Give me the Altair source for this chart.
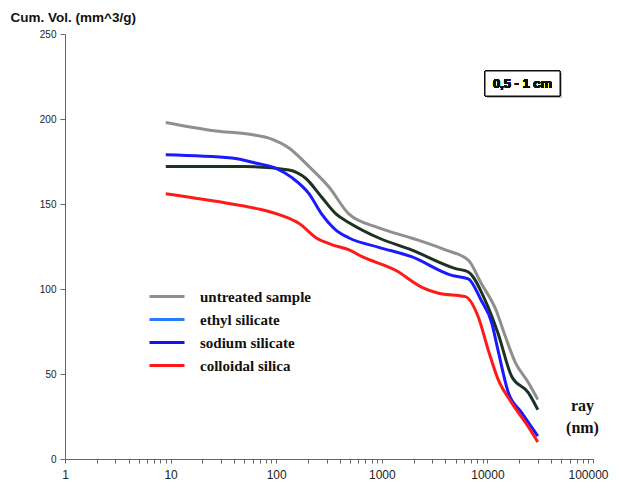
import altair as alt
import pandas as pd

series_names = ["untreated sample", "ethyl silicate", "sodium silicate", "colloidal silica"]
line_colors = ["#8f8f8f", "#1b3320", "#1a1aff", "#ff1a1a"]
legend_colors = ["#8f8f8f", "#2a7bff", "#1515e6", "#ff1a1a"]

untreated_x = [9, 27, 56, 92, 132, 205, 316, 490, 937, 1910, 4000, 6600, 8700, 12000, 14800, 18300, 24400, 30000]
untreated_y = [198, 193, 191, 188, 183, 172, 160, 144, 136, 130, 123, 117, 103.5, 88, 72, 57, 45, 35]

ethyl_x = [9, 50, 132, 191, 270, 370, 490, 937, 1910, 5000, 6600, 9500, 12600, 17000, 24400, 30000]
ethyl_y = [172, 172, 170, 165, 154, 144, 139, 130, 123, 112, 110, 93.5, 74, 48.5, 39, 29]

sodium_x = [9, 38, 65, 100, 141, 205, 270, 370, 490, 937, 1910, 4600, 6600, 8700, 11000, 12600, 15800, 21000, 30000]
sodium_y = [179, 177, 174, 171, 165.5, 156, 144, 134.5, 130, 124.5, 119, 108, 106, 93.5, 80, 64, 39, 27.5, 13.5]

colloidal_x = [9, 38, 69, 115, 165, 240, 340, 490, 650, 1350, 2400, 3450, 6200, 8200, 10200, 12600, 17000, 24400, 30000]
colloidal_y = [156, 150, 147, 143, 138.5, 130, 126, 123, 119, 111, 101, 97.5, 95.5, 83.5, 64, 47, 33, 19, 10]

x_ticks = [m * 10 ** k for k in range(5) for m in range(1, 10)] + [100000]
y_ticks = [0, 50, 100, 150, 200, 250]

rows = []
for name, xs, ys in zip(series_names,
                        [untreated_x, ethyl_x, sodium_x, colloidal_x],
                        [untreated_y, ethyl_y, sodium_y, colloidal_y]):
    for i, (a, b) in enumerate(zip(xs, ys)):
        rows.append({"series": name, "ray": a, "vol": b, "order": i})
df = pd.DataFrame(rows)

x_enc = alt.X("ray:Q",
              scale=alt.Scale(type="log", domain=[1, 100000], nice=False),
              axis=alt.Axis(values=x_ticks,
                            labelExpr="indexof([1,10,100,1000,10000,100000], datum.value) >= 0 ? format(datum.value, 'd') : ''",
                            grid=False, tickSize=4, domainColor="#666", tickColor="#666",
                            labelFont="Liberation Sans", labelFontSize=12, labelColor="#222",
                            labelPadding=6, labelFlush=False, labelOverlap=False,
                            labelOffset=alt.condition("datum.value == 100000", alt.value(-5), alt.value(0)),
                            title=["ray", "(nm)"], titleFont="Liberation Serif", titleFontSize=16,
                            titleFontWeight="bold", titleColor="#111", titleAnchor="start",
                            titleAlign="center", titleBaseline="top", titleLineHeight=22,
                            titleX=517, titleY=-62))
y_enc = alt.Y("vol:Q",
              scale=alt.Scale(domain=[0, 250], nice=False),
              axis=alt.Axis(values=y_ticks, grid=False, tickSize=5, domainColor="#666",
                            tickColor="#666", labelFont="Liberation Sans", labelFontSize=10,
                            labelColor="#222", labelPadding=4,
                            title="Cum. Vol. (mm^3/g)", titleAngle=0, titleAlign="left",
                            titleBaseline="middle", titleX=-55, titleY=-17,
                            titleFont="Liberation Sans", titleFontSize=13.5,
                            titleFontWeight="bold", titleColor="#111"))

lines = alt.Chart(df).mark_line(strokeWidth=3, interpolate="monotone").encode(
    x=x_enc, y=y_enc,
    color=alt.Color("series:N", scale=alt.Scale(domain=series_names, range=line_colors), legend=None),
    order="order:Q",
)

legend_layer = alt.Chart(df).transform_calculate(key="datum.series").mark_line(
    strokeWidth=3, strokeOpacity=0).encode(
    x="ray:Q", y="vol:Q",
    stroke=alt.Stroke("key:N", scale=alt.Scale(domain=series_names, range=legend_colors),
                      legend=alt.Legend(orient="none", legendX=83, legendY=252, title=None,
                                        symbolType="stroke", symbolSize=1225,
                                        symbolStrokeWidth=3, symbolOpacity=1,
                                        clipHeight=21, rowPadding=2,
                                        labelFont="Liberation Serif", labelFontSize=15,
                                        labelFontWeight="bold", labelColor="#111",
                                        labelOffset=14)),
    detail="key:N",
    order="order:Q",
)

box_shadow = alt.Chart(df).mark_rect(fill="#bbbbbb").encode(
    x=alt.value(422), x2=alt.value(497), y=alt.value(39), y2=alt.value(64))
box = alt.Chart(df).mark_rect(fill="white", stroke="#111", strokeWidth=1).encode(
    x=alt.value(420), x2=alt.value(495), y=alt.value(37), y2=alt.value(62))
box_text = alt.Chart(df).mark_text(font="Liberation Sans", fontSize=13, fontWeight="bold",
                                   color="#111", align="center", baseline="middle").encode(
    x=alt.value(457.5), y=alt.value(49.5), text=alt.value("0,5 - 1 cm"))

chart = alt.layer(lines, legend_layer, box_shadow, box, box_text).resolve_legend(
    color="independent", stroke="independent"
).properties(
    width=528, height=425,
    autosize=alt.AutoSizeParams(type="none"),
    padding={"left": 57, "top": 26, "right": 18, "bottom": 22},
).configure(background="white").configure_view(stroke=None)

chart.save("out.html", embed_options={"renderer": "svg", "actions": False})
